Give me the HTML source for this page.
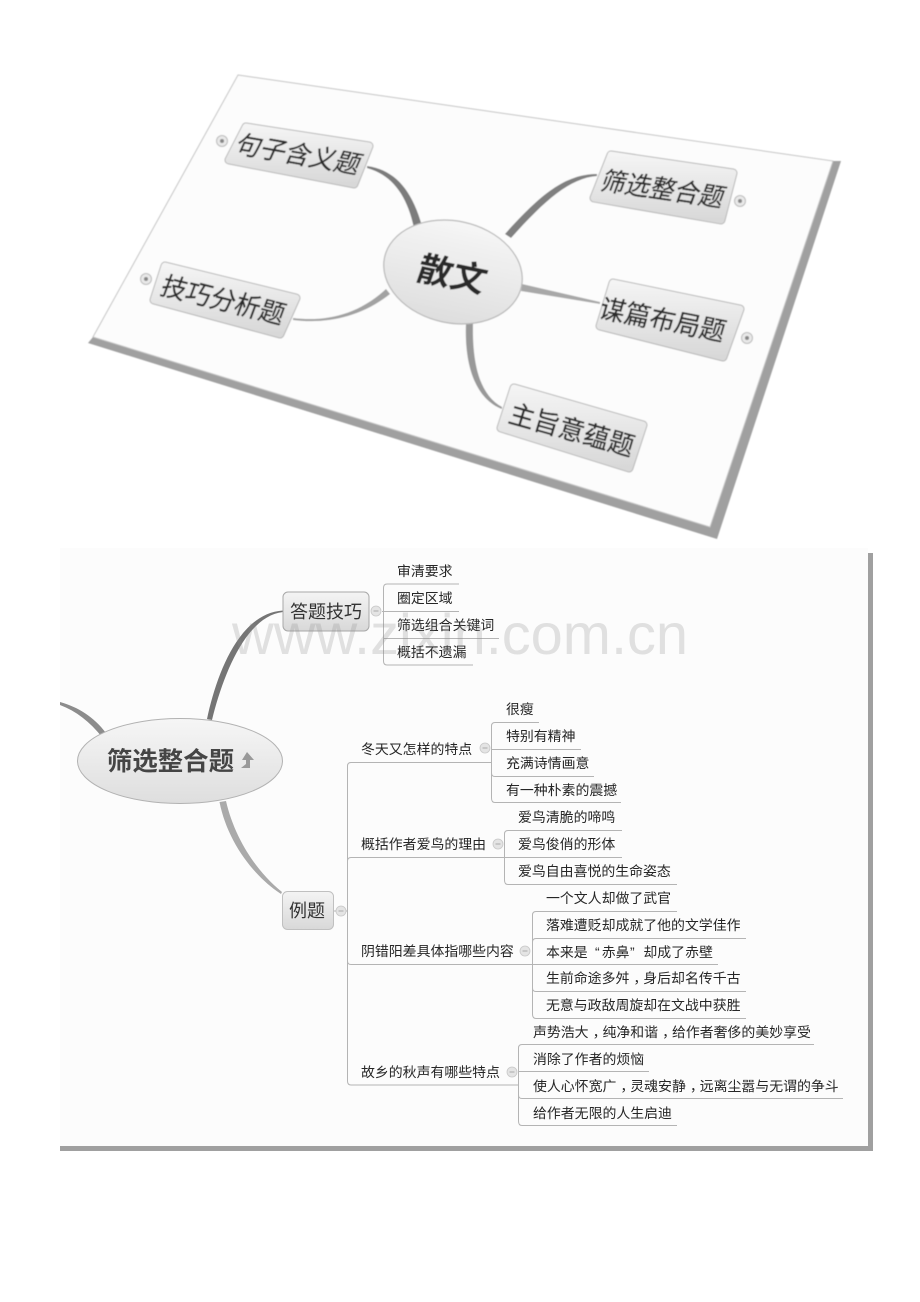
<!DOCTYPE html>
<html lang="zh"><head><meta charset="utf-8"><style>
html,body{margin:0;padding:0;background:#fff}
svg{display:block}
text{font-family:"Liberation Sans","Noto Sans CJK SC",sans-serif}
.t{font-size:13.9px;fill:#262626}
.l{fill:none;stroke:#b4b4b4;stroke-width:1}
.c{fill:#e4e4e4;stroke:#c8c8c8;stroke-width:.8}
.m{stroke:#aaa;stroke-width:1}
.n{font-size:25.500px;fill:#2a2a2a;text-anchor:middle;stroke:#2a2a2a;stroke-width:.25}
</style></head><body>
<svg xmlns="http://www.w3.org/2000/svg" width="920" height="1302" viewBox="0 0 920 1302">
<defs>
<linearGradient id="g" x1="0" y1="0" x2="0" y2="1"><stop offset="0" stop-color="#f4f4f4"/><stop offset="1" stop-color="#d8d8d8"/></linearGradient>
<linearGradient id="g2" x1="0" y1="0" x2="0" y2="1"><stop offset="0" stop-color="#f6f6f6"/><stop offset="1" stop-color="#dedede"/></linearGradient>
<filter id="b1" x="-5%" y="-5%" width="110%" height="110%"><feGaussianBlur stdDeviation="0.55"/></filter>
<filter id="b2" x="-5%" y="-5%" width="110%" height="110%"><feGaussianBlur stdDeviation="0.35"/></filter>
</defs>
<rect width="920" height="1302" fill="#fff"/>

<!-- top tilted sheet -->
<g filter="url(#b1)">
<polygon points="833,161 841,161 717,539 88,343 93,337 710,527" fill="#a0a0a0"/>
<polygon points="238,75 833,161 710,527 93,337" fill="#fcfcfc" stroke="#c4c4c4" stroke-width="1"/>

<path d="M367,166 C395,170 412,190 422,226 L414,228 C407,195 392,175 367,168Z" fill="#7c7c7c"/>
<path d="M293,318 C325,322 358,315 386,289 L390,294 C360,318 325,324 293,320Z" fill="#a2a2a2"/>
<path d="M597,174 C565,174 540,195 505,234 L511,238 C545,200 570,178 597,176Z" fill="#808080"/>
<path d="M522,284 L600,302 L600,304 L521,291Z" fill="#a8a8a8"/>
<path d="M466,323 L473,323 C472,365 480,395 502,407 L502,409 C478,400 464,370 466,323Z" fill="#999"/>

<g stroke-linejoin="round">
<polygon points="246,127 369,146 354,184 229,160" fill="#bbb" stroke="#b8b8b8" stroke-width="9"/>
<polygon points="246,127 369,146 354,184 229,160" fill="url(#g)" stroke="url(#g)" stroke-width="7"/>
<polygon points="165,266 296,298 280,334 154,300" fill="#bbb" stroke="#b8b8b8" stroke-width="9"/>
<polygon points="165,266 296,298 280,334 154,300" fill="url(#g)" stroke="url(#g)" stroke-width="7"/>
<polygon points="611,155 733,173 721,220 594,198" fill="#bbb" stroke="#b8b8b8" stroke-width="9"/>
<polygon points="611,155 733,173 721,220 594,198" fill="url(#g)" stroke="url(#g)" stroke-width="7"/>
<polygon points="613,283 740,309 723,357 600,326" fill="#bbb" stroke="#b8b8b8" stroke-width="9"/>
<polygon points="613,283 740,309 723,357 600,326" fill="url(#g)" stroke="url(#g)" stroke-width="7"/>
<polygon points="514,388 643,425 629,468 501,428" fill="#bbb" stroke="#b8b8b8" stroke-width="9"/>
<polygon points="514,388 643,425 629,468 501,428" fill="url(#g)" stroke="url(#g)" stroke-width="7"/>
</g>
<ellipse cx="453" cy="272" rx="70" ry="51" transform="rotate(12 453 272)" fill="url(#g2)" stroke="#b8b8b8" stroke-width="1.2"/>

<text class="n" transform="matrix(.97,.17,-.42,.95,295,163)">句子含义题</text>
<text class="n" transform="matrix(.96,.24,-.36,.98,220,309)">技巧分析题</text>
<text class="n" transform="matrix(.96,.14,-.36,.98,660,198)">筛选整合题</text>
<text class="n" transform="matrix(.98,.19,-.29,1,660,329)">谋篇布局题</text>
<text class="n" transform="matrix(.97,.27,-.3,1,569,439)">主旨意蕴题</text>
<text class="n" transform="matrix(.97,.2,-.33,.94,448,286)" style="font-size:35px;font-weight:bold;stroke-width:0">散文</text>

<g fill="#e8e8e8" stroke="#bbb">
<circle cx="222" cy="141" r="5.5"/><circle cx="146" cy="279" r="5.5"/>
<circle cx="740" cy="201" r="5.5"/><circle cx="747" cy="338" r="5.5"/>
</g>
<g fill="#888"><circle cx="222" cy="141" r="2"/><circle cx="146" cy="279" r="2"/><circle cx="740" cy="201" r="2"/><circle cx="747" cy="338" r="2"/></g>
</g>

<!-- bottom sheet -->
<g filter="url(#b2)">
<rect x="60" y="553" width="813" height="598" fill="#a0a0a0"/>
<rect x="60" y="548" width="808" height="598" fill="#fcfcfc"/>

<path d="M60,702 C78,707 94,717 106,733 L102,737 C90,722 76,711 60,705Z" fill="#8c8c8c"/>
<path d="M207,719 C217,672 240,613 283,610.500 L283,612 C246,616 223,675 212,720Z" fill="#747474"/>
<path d="M219.500,802 C227,840 252,875 281,894 L282,892 C258,873 235,840 226,801Z" fill="#aaa"/>

<ellipse cx="180" cy="761" rx="102.500" ry="42.500" fill="url(#g2)" stroke="#b2b2b2" stroke-width="1"/>
<text x="107" y="770" style="font-size:25.400px;font-weight:bold;fill:#444">筛选整合题</text>
<path d="M247,752 L254,760 L250,760 L250,768 L241,768 L246,764 L246,760 L242,760Z" fill="#999"/>

<rect x="283" y="592" width="86" height="39" rx="5" fill="url(#g)" stroke="#a8a8a8"/>
<text x="290" y="618" style="font-size:18px;fill:#333">答题技巧</text>
<rect x="282.500" y="891.500" width="51" height="38" rx="5" fill="url(#g)" stroke="#c0c0c0"/>
<text x="289" y="917" style="font-size:18px;fill:#333">例题</text>

<!-- lines group 1 -->
<path class="l" d="M459,584 H387 Q383.500,584 383.500,588 V661 Q383.500,665 387,665 H473"/>
<path class="l" d="M382,611.500 H459 M384,638.500 H499"/>
<circle class="c" cx="376" cy="611" r="5"/><path class="m" d="M373.500,611 H378.500"/>
<text class="t" x="397" y="576">审清要求</text>
<text class="t" x="397" y="603">圈定区域</text>
<text class="t" x="397" y="630">筛选组合关键词</text>
<text class="t" x="397" y="657">概括不遗漏</text>

<!-- trunk -->
<path class="l" d="M492,762.500 H351 Q347.500,762.500 347.500,766 V1081 Q347.500,1085 351,1085 H519"/>
<path class="l" d="M504,857.500 H351 Q347.500,857.500 347.500,861 M532,964.500 H351 Q347.500,964.500 347.500,961"/>
<circle class="c" cx="341" cy="911" r="5"/><path class="m" d="M338.500,911 H343.500"/>
<path class="l" d="M334,911 H336 M346,911 H347"/>

<text class="t" x="361" y="754">冬天又怎样的特点</text>
<circle class="c" cx="485" cy="748" r="5"/><path class="m" d="M482.500,748 H487.500"/>
<path class="l" d="M539,722.500 H495 Q491.500,722.500 491.500,726 V798 Q491.500,802.500 495,802.500 H621"/>
<path class="l" d="M491,749.500 H581 M594,776.500 H495 Q491.500,776.500 491.500,773"/>
<text class="t" x="506" y="714">很瘦</text>
<text class="t" x="506" y="741">特别有精神</text>
<text class="t" x="506" y="768">充满诗情画意</text>
<text class="t" x="506" y="795">有一种朴素的震撼</text>

<text class="t" x="361" y="849">概括作者爱鸟的理由</text>
<circle class="c" cx="498" cy="844" r="5"/><path class="m" d="M495.500,844 H500.500"/>
<path class="l" d="M622,830.500 H508 Q504.500,830.500 504.500,834 V880 Q504.500,884.500 508,884.500 H677"/>
<path class="l" d="M504,857.500 H622"/>
<text class="t" x="518" y="822">爱鸟清脆的啼鸣</text>
<text class="t" x="518" y="849">爱鸟俊俏的形体</text>
<text class="t" x="518" y="876">爱鸟自由喜悦的生命姿态</text>

<text class="t" x="361" y="956">阴错阳差具体指哪些内容</text>
<circle class="c" cx="525" cy="951" r="5"/><path class="m" d="M522.500,951 H527.500"/>
<path class="l" d="M677,911.500 H536 Q532.500,911.500 532.500,915 V1014 Q532.500,1018.500 536,1018.500 H746"/>
<path class="l" d="M746,938.500 H536 Q532.500,938.500 532.500,942 M532,964.500 H718 M746,991.500 H536 Q532.500,991.500 532.500,988"/>
<text class="t" x="546" y="903">一个文人却做了武官</text>
<text class="t" x="546" y="930">落难遭贬却成就了他的文学佳作</text>
<text class="t" y="957"><tspan x="546">本来是</tspan><tspan x="595">“</tspan><tspan x="601.700">赤鼻</tspan><tspan x="630">”</tspan><tspan x="643.400">却成了赤壁</tspan></text>
<text class="t" y="983"><tspan x="546">生前命途多舛</tspan><tspan dx="4">，</tspan><tspan dx="-4">身后却名传千古</tspan></text>
<text class="t" x="546" y="1010">无意与政敌周旋却在文战中获胜</text>

<text class="t" x="361" y="1077">故乡的秋声有哪些特点</text>
<circle class="c" cx="512" cy="1072" r="5"/><path class="m" d="M509.500,1072 H514.500"/>
<path class="l" d="M814,1044.500 H522 Q518.500,1044.500 518.500,1048 V1121 Q518.500,1125.500 522,1125.500 H677"/>
<path class="l" d="M518,1071.500 H649 M843,1098.500 H522 Q518.500,1098.500 518.500,1095"/>
<text class="t" y="1037"><tspan x="533">声势浩大</tspan><tspan dx="4">，</tspan><tspan dx="-4">纯净和谐</tspan><tspan dx="4">，</tspan><tspan dx="-4">给作者奢侈的美妙享受</tspan></text>
<text class="t" x="533" y="1064">消除了作者的烦恼</text>
<text class="t" y="1091"><tspan x="533">使人心怀宽广</tspan><tspan dx="4">，</tspan><tspan dx="-4">灵魂安静</tspan><tspan dx="4">，</tspan><tspan dx="-4">远离尘嚣与无谓的争斗</tspan></text>
<text class="t" x="533" y="1118">给作者无限的人生启迪</text>

<text x="232" y="654" style="font-size:57.800px;fill:#888;fill-opacity:.24">www.zixin.com.cn</text>
</g>
</svg>
</body></html>
